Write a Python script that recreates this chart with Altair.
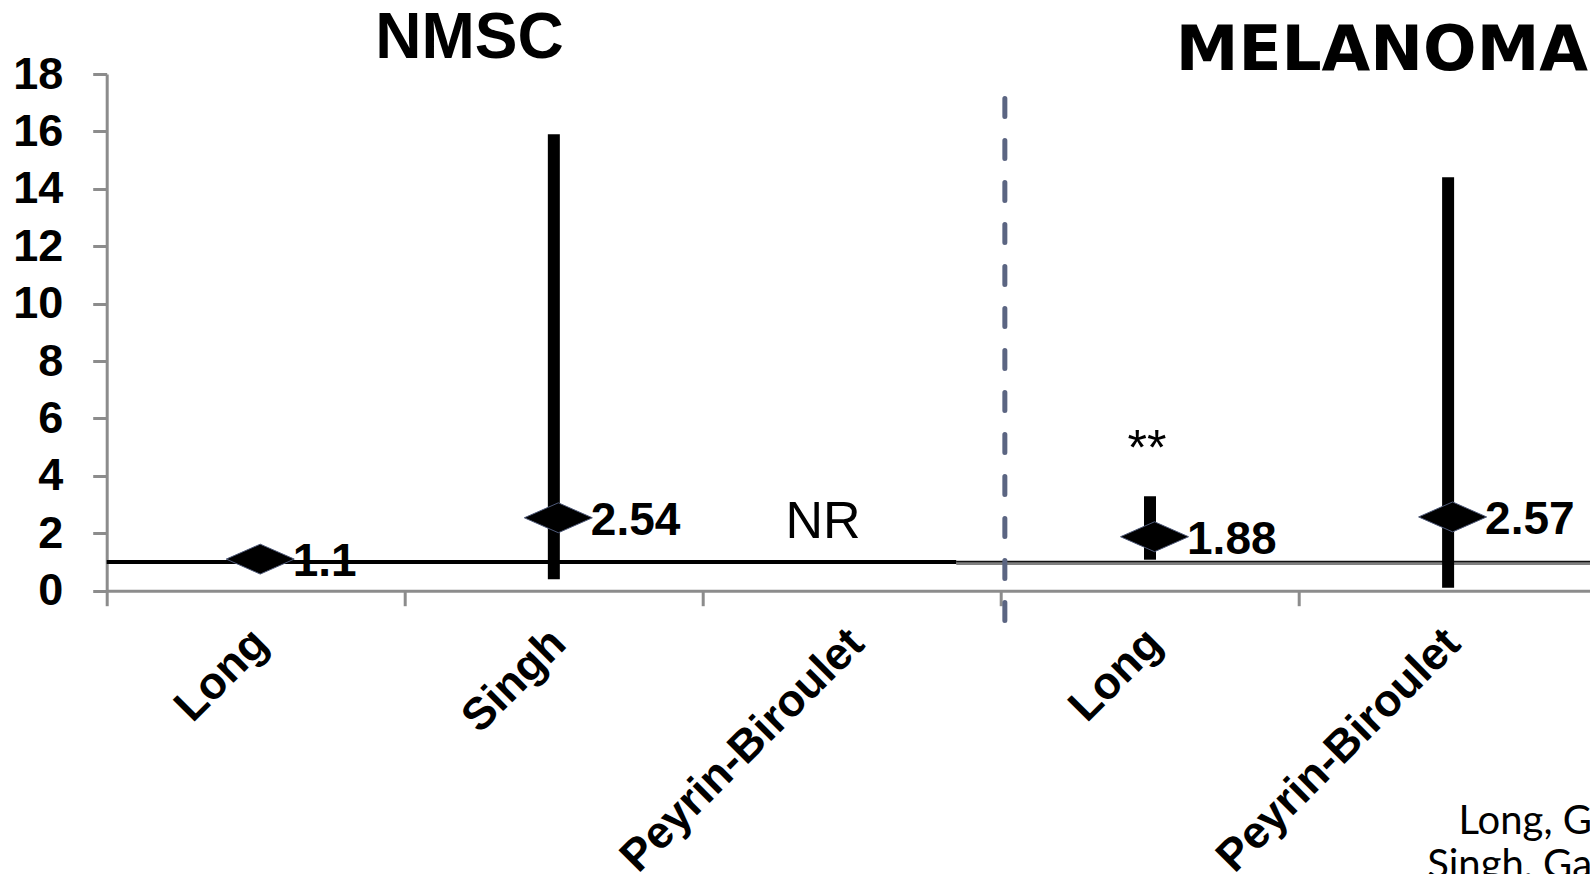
import altair as alt
import pandas as pd

# ---- data ----
categories = ["Long", "Singh", "Peyrin-Biroulet", "Long", "Peyrin-Biroulet"]
groups = ["NMSC", "NMSC", "NMSC", "MELANOMA", "MELANOMA"]
odds_ratio = [1.1, 2.54, None, 1.88, 2.57]
ci_low = [None, 0.4, None, 1.08, 0.1]
ci_high = [None, 15.9, None, 3.29, 14.4]
or_labels = ["1.1", "2.54", "", "1.88", "2.57"]

nr_index = 2          # "not reported" marker category
nr_text = "NR"
nr_value = 2.4
sig_index = 3         # significance marker category
sig_text = "**"
sig_value = 4.9

ref_value = 1.0
ref_group = ["NMSC", "MELANOMA"]
ref_start = [0.0, 2.85]
ref_end = [2.85, 5.0]

divider_pos = 3.013
divider_top = 17.15
divider_bottom = -1.05

titles = ["NMSC", "MELANOMA"]
title_x = [1.217, 4.278]
title_y = [19.22, 18.8]

footnotes = ["Long, Gastroenterology 2012", "Singh, Gastroenterology 2014"]
foot_x = [4.535, 4.43]
foot_y = [-8.48, -10.0]

x_max = 4.976
y_ticks = list(range(0, 19, 2))

# ---- tables ----
studies = pd.DataFrame({
    "study": categories,
    "group": groups,
    "pos": [i + 0.5 for i in range(len(categories))],
    "or": odds_ratio,
    "lo": ci_low,
    "hi": ci_high,
    "label": or_labels,
})
refs = pd.DataFrame({"group": ref_group, "x0": ref_start, "x1": ref_end, "y": ref_value})
divider = pd.DataFrame({"x": [divider_pos], "y0": [divider_top], "y1": [divider_bottom]})
notes = pd.DataFrame({
    "pos": [nr_index + 0.5, sig_index + 0.5],
    "y": [nr_value, sig_value],
    "text": [nr_text, sig_text],
})
title_df = pd.DataFrame({"x": title_x, "y": title_y, "text": titles})
foot_df = pd.DataFrame({"x": foot_x, "y": foot_y, "text": footnotes})

FONT = "Liberation Sans"
AXIS_GREY = "#8c8c8c"

xscale = alt.Scale(domain=[0, x_max], nice=False, zero=False)
yscale = alt.Scale(domain=[0, 18], nice=False, zero=False)

label_array = "[" + ",".join("'" + c + "'" for c in categories) + "]"
x_axis = alt.Axis(
    values=[v / 2 for v in range(0, 2 * len(categories))],
    labelExpr=f"(datum.value % 1) > 0.25 ? {label_array}[floor(datum.value)] : ''",
    tickOpacity={"condition": {"test": "(datum.value % 1) > 0.25", "value": 0}, "value": 1},
    tickSize=15, tickWidth=3, tickColor=AXIS_GREY,
    domainColor=AXIS_GREY, domainWidth=3,
    labelAngle=315, labelAlign="right", labelBaseline="middle",
    labelPadding=30, labelOffset=4, labelLimit=0,
    labelFont=FONT, labelFontSize=45, labelFontWeight="bold", labelColor="black",
    labelFlush=False, labelOverlap=False, labelBound=False,
    grid=False, title=None,
)
y_axis = alt.Axis(
    values=y_ticks, tickSize=14, tickWidth=3, tickColor=AXIS_GREY,
    domainColor=AXIS_GREY, domainWidth=3, labelPadding=30,
    labelFont=FONT, labelFontSize=45, labelFontWeight="bold", labelColor="black",
    grid=False, title=None,
)


def X(field):
    return alt.X(field, scale=xscale, axis=x_axis)


def Y(field):
    return alt.Y(field, scale=yscale, axis=y_axis)


# reference lines at OR = 1
ref_nmsc = alt.Chart(refs).transform_filter("datum.group == 'NMSC'").mark_rule(
    color="black", strokeWidth=4
).encode(x=X("x0:Q"), x2="x1:Q", y=Y("y:Q"))
ref_mel_grey = alt.Chart(refs).transform_filter("datum.group == 'MELANOMA'").mark_rule(
    color="#808080", strokeWidth=4, yOffset=1
).encode(x=X("x0:Q"), x2="x1:Q", y=Y("y:Q"))
ref_mel_dark = alt.Chart(refs).transform_filter("datum.group == 'MELANOMA'").mark_rule(
    color="#111111", strokeWidth=1.5, yOffset=-0.5
).encode(x=X("x0:Q"), x2="x1:Q", y=Y("y:Q"))

div = alt.Chart(divider).mark_rule(
    color="#5b6582", strokeWidth=5, strokeDash=[18, 24], strokeCap="round"
).encode(x=X("x:Q"), y=Y("y0:Q"), y2="y1:Q")

ci = alt.Chart(studies).transform_filter("isValid(datum.lo)").mark_rule(
    color="black", strokeWidth=12, strokeCap="butt"
).encode(x=X("pos:Q"), y=Y("lo:Q"), y2="hi:Q")

diamond = "M -1 0 L 0 -0.44 L 1 0 L 0 0.44 Z"
pts = alt.Chart(studies).transform_filter("isValid(datum.or)").mark_point(
    shape=diamond, filled=True, fill="black", stroke="#4d5877", strokeWidth=1,
    size=4624, opacity=1, xOffset=4.5
).encode(x=X("pos:Q"), y=Y("or:Q"))

vals = alt.Chart(studies).transform_filter("isValid(datum.or)").mark_text(
    align="left", baseline="middle", dx=37, dy=3, font=FONT, fontSize=46,
    fontWeight="bold", color="black"
).encode(x=X("pos:Q"), y=Y("or:Q"), text="label:N")

nr = alt.Chart(notes).transform_filter("datum.text == 'NR'").mark_text(
    align="center", baseline="middle", dx=-29, font=FONT, fontSize=52, color="black"
).encode(x=X("pos:Q"), y=Y("y:Q"), text="text:N")
sig = alt.Chart(notes).transform_filter("datum.text != 'NR'").mark_text(
    align="center", baseline="middle", dx=-3, font=FONT, fontSize=50, color="black"
).encode(x=X("pos:Q"), y=Y("y:Q"), text="text:N")

t_nmsc = alt.Chart(title_df).transform_filter("datum.text == 'NMSC'").mark_text(
    align="center", baseline="middle", font=FONT, fontSize=64, fontWeight="bold", color="black"
).encode(x=X("x:Q"), y=Y("y:Q"), text="text:N")
t_mel = alt.Chart(title_df).transform_filter("datum.text != 'NMSC'").mark_text(
    align="center", baseline="middle", font="DejaVu Sans", fontSize=63, fontWeight="bold", color="black"
).encode(x=X("x:Q"), y=Y("y:Q"), text="text:N")

foot = alt.Chart(foot_df).mark_text(
    align="left", baseline="alphabetic", font="Lato", fontSize=40, color="black"
).encode(x=X("x:Q"), y=Y("y:Q"), text="text:N")

chart = alt.layer(
    ref_mel_grey, ref_mel_dark, ref_nmsc, div, ci, pts, vals, nr, sig, t_nmsc, t_mel, foot
).properties(
    width=1483.3, height=516.7,
    autosize=alt.AutoSizeParams(type="none"),
    padding={"left": 106.7, "top": 74, "right": 0, "bottom": 283.3},
    background="white",
).configure_view(stroke=None)

chart.save("out.html", embed_options={"renderer": "svg", "actions": False})
